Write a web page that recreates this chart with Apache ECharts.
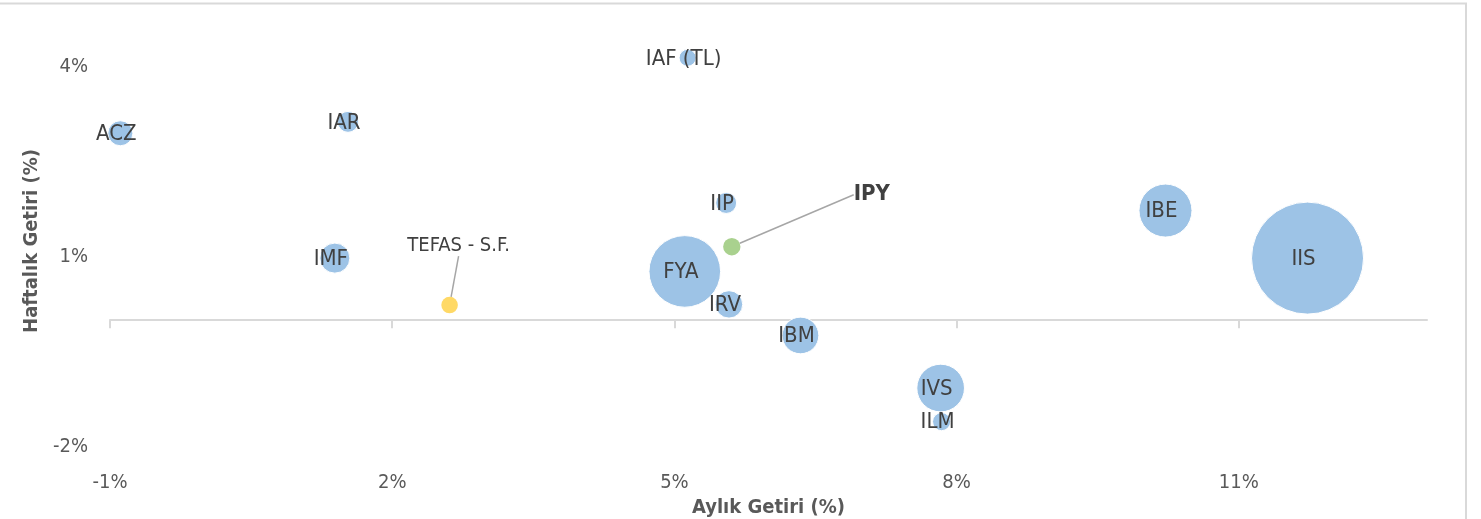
<!DOCTYPE html>
<html>
<head>
<meta charset="utf-8">
<script src="https://cdn.jsdelivr.net/npm/echarts@6/dist/echarts.min.js"></script>
<style>
  html, body { margin: 0; padding: 0; background: #fff; }
  #chart { width: 1481px; height: 519px; }
</style>
</head>
<body>
<div id="chart"></div>
<script>
// fon verileri: aylık getiri (%), haftalık getiri (%), balon büyüklüğü
const fundNames = ['ACZ', 'IAR', 'IAF (TL)', 'IIP', 'IMF', 'FYA', 'IRV', 'IBM', 'IVS', 'ILM', 'IBE', 'IIS'];
const fundMonthly = [-0.89, 1.53, 5.14, 5.55, 1.39, 5.11, 5.58, 6.34, 7.83, 7.84, 10.22, 11.73];
const fundWeekly = [2.95, 3.13, 4.14, 1.85, 0.98, 0.77, 0.25, -0.24, -1.07, -1.6, 1.73, 0.98];
const fundSize = [5.0, 3.5, 2.3, 3.5, 7.2, 40.9, 6.0, 10.7, 18.1, 2.6, 22.4, 100];

const ipyName = ['IPY'];
const ipyMonthly = [5.61];
const ipyWeekly = [1.16];
const ipySize = [2.4];

const tefasName = ['TEFAS - S.F.'];
const tefasMonthly = [2.61];
const tefasWeekly = [0.24];
const tefasSize = [2.2];

const xTicks = [-1, 2, 5, 8, 11];
const yTicks = [-2, 1, 4];

function toData(names, xs, ys, sizes) {
  return names.map((n, i) => [xs[i], ys[i], sizes[i], n]);
}

const bubbleSize = d => 11.2 * Math.sqrt(d[2]);
const font = "'DejaVu Sans Condensed', 'Liberation Sans Narrow', Roboto, sans-serif";

const chart = echarts.init(document.getElementById('chart'));

const options = {
  animation: false,
  backgroundColor: '#fff',
  graphic: [{
    type: 'rect',
    shape: { x: -5, y: 3.5, width: 1471, height: 600 },
    style: { fill: 'none', stroke: '#d9d9d9', lineWidth: 2 },
    silent: true
  }],
  grid: { left: 110, right: 54, top: 35, bottom: 72, outerBoundsMode: 'none', containLabel: false },
  xAxis: [
    {
      type: 'value',
      min: -1,
      max: 13,
      interval: 3,
      position: 'bottom',
      axisLine: { show: false, onZero: false },
      axisTick: { show: false },
      splitLine: { show: false },
      axisLabel: {
        customValues: xTicks,
        formatter: v => v + '%',
        color: '#595959',
        fontSize: 20,
        fontFamily: font,
        margin: 26
      },
      name: 'Aylık Getiri (%)',
      nameLocation: 'middle',
      nameGap: 48,
      nameTextStyle: { color: '#595959', fontSize: 20, fontWeight: 'bold', fontFamily: font }
    },
    {
      type: 'value',
      min: -1,
      max: 13,
      interval: 3,
      position: 'top',
      axisLine: { show: true, onZero: true, lineStyle: { color: '#d9d9d9', width: 2 } },
      axisTick: { show: true, inside: true, length: 8, customValues: xTicks, lineStyle: { color: '#d9d9d9', width: 2 } },
      axisLabel: { show: false },
      splitLine: { show: false }
    }
  ],
  yAxis: {
    type: 'value',
    min: -2,
    max: 4.5,
    interval: 3,
    axisLine: { show: false },
    axisTick: { show: false },
    splitLine: { show: false },
    axisLabel: {
      customValues: yTicks,
      formatter: v => v + '%',
      color: '#595959',
      fontSize: 20,
      fontFamily: font,
      margin: 22
    },
    name: 'Haftalık Getiri (%)',
    nameLocation: 'middle',
    nameGap: 68,
    nameTextStyle: { color: '#595959', fontSize: 20, fontWeight: 'bold', fontFamily: font }
  },
  series: [
    {
      name: 'Fonlar',
      type: 'scatter',
      clip: false,
      data: toData(fundNames, fundMonthly, fundWeekly, fundSize),
      symbolSize: bubbleSize,
      itemStyle: { color: '#9dc3e6', borderColor: '#fff', borderWidth: 1, opacity: 1 },
      label: {
        show: true,
        position: 'inside',
        offset: [-4, 1],
        formatter: p => p.data[3],
        color: '#404040',
        fontSize: 22,
        fontFamily: font
      }
    },
    {
      name: 'IPY',
      type: 'scatter',
      clip: false,
      data: toData(ipyName, ipyMonthly, ipyWeekly, ipySize),
      symbolSize: bubbleSize,
      itemStyle: { color: '#a9d18e', opacity: 1 },
      label: {
        show: true,
        position: 'inside',
        formatter: p => p.data[3],
        color: '#404040',
        fontSize: 22,
        fontWeight: 'bold',
        fontFamily: font
      },
      labelLayout: { dx: 140, dy: -52 },
      labelLine: { show: true, lineStyle: { color: '#a6a6a6', width: 1.5 } }
    },
    {
      name: 'TEFAS',
      type: 'scatter',
      clip: false,
      data: toData(tefasName, tefasMonthly, tefasWeekly, tefasSize),
      symbolSize: bubbleSize,
      itemStyle: { color: '#ffd966', opacity: 1 },
      label: {
        show: true,
        position: 'inside',
        formatter: p => p.data[3],
        color: '#404040',
        fontSize: 20,
        fontFamily: font
      },
      labelLayout: { dx: 9, dy: -59 },
      labelLine: { show: true, lineStyle: { color: '#a6a6a6', width: 1.5 } }
    }
  ]
};
chart.setOption(options);
</script>
</body>
</html>
